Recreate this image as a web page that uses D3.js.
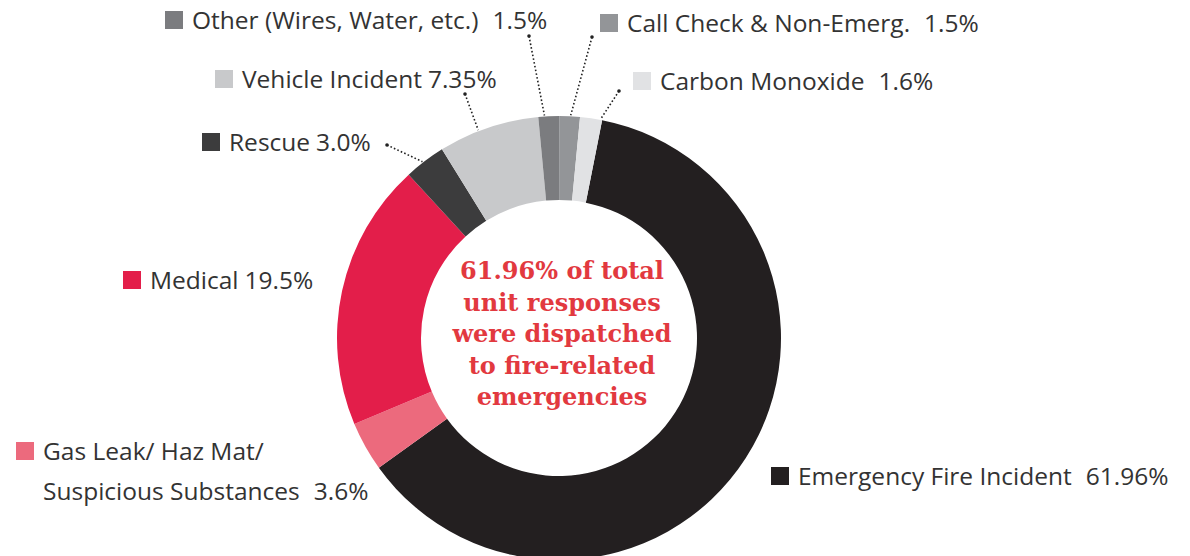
<!DOCTYPE html>
<html>
<head>
<meta charset="utf-8">
<script src="https://cdn.jsdelivr.net/npm/d3@7"></script>
<style>
  body { margin: 0; background: #fff; }
  svg { display: block; }
  .lbl { font-family: "Open Sans", sans-serif; font-size: 24.5px; fill: #333; }
  .center { font-family: "DejaVu Serif", serif; font-weight: bold; font-size: 24px; fill: #e2393f; }
</style>
</head>
<body>
<script>
// 데이터
var categories = ["Emergency Fire Incident", "Gas Leak/ Haz Mat/ Suspicious Substances", "Medical",
                  "Rescue", "Vehicle Incident", "Other (Wires, Water, etc.)",
                  "Call Check & Non-Emerg.", "Carbon Monoxide"];
var values = [61.96, 3.6, 19.5, 3.0, 7.35, 1.5, 1.5, 1.6];
var valueLabels = ["61.96%", "3.6%", "19.5%", "3.0%", "7.35%", "1.5%", "1.5%", "1.6%"];
var colors = ["#231f20", "#ec6a7d", "#e31e4a", "#3c3c3d", "#c8c9cb", "#7b7c7f", "#939598", "#e1e2e4"];
var centerLines = ["61.96% of total", "unit responses", "were dispatched", "to fire-related", "emergencies"];

// 레이아웃 (라벨 위치)
var labelLayout = [
  {x: 771, y: 485, lines: ["Emergency Fire Incident"], gap: 14},
  {x: 16,  y: 460, lines: ["Gas Leak/ Haz Mat/", "Suspicious Substances"], gap: 14},
  {x: 123, y: 289, lines: ["Medical"], gap: 6},
  {x: 202, y: 151, lines: ["Rescue"], gap: 6},
  {x: 215, y: 88,  lines: ["Vehicle Incident"], gap: 6},
  {x: 165, y: 29,  lines: ["Other (Wires, Water, etc.)"], gap: 14, leader: [529, 36, 0.3]},
  {x: 600, y: 32,  lines: ["Call Check & Non-Emerg."], gap: 14, leader: [592, 37, 0.55]},
  {x: 633, y: 90,  lines: ["Carbon Monoxide"], gap: 14, leader: [619, 91, 0.93]}
];
labelLayout[3].leader = [387, 145, 0.45];
labelLayout[4].leader = [465, 94, 0.4];

var width = 1190,
    height = 556,
    cx = 559,
    cy = 338,
    outerR = 222,
    innerR = 138,
    startDeg = 11.2;

var svg = d3.select("body").append("svg")
    .attr("width", width)
    .attr("height", height);

var pie = d3.pie()
    .sort(null)
    .value(function(d){ return d; })
    .startAngle(startDeg * Math.PI / 180)
    .endAngle(startDeg * Math.PI / 180 + 2 * Math.PI);

var arcs = pie(values);
var arc = d3.arc().innerRadius(innerR).outerRadius(outerR);

var g = svg.append("g").attr("transform", "translate(" + cx + "," + cy + ")");
g.selectAll("path")
    .data(arcs)
  .enter().append("path")
    .attr("d", arc)
    .attr("fill", function(d, i){ return colors[i]; });

// 가운데 텍스트
var ct = svg.append("text")
    .attr("class", "center")
    .attr("text-anchor", "middle")
    .attr("x", 562)
    .attr("y", 279);
centerLines.forEach(function(t, i){
  ct.append("tspan").attr("x", 562).attr("dy", i == 0 ? 0 : 31.5).text(t);
});

// 범례 라벨
labelLayout.forEach(function(L, i){
  svg.append("rect")
      .attr("x", L.x)
      .attr("y", L.y - 18)
      .attr("width", 18)
      .attr("height", 18)
      .attr("fill", colors[i]);
  var t = svg.append("text").attr("class", "lbl").attr("x", L.x + 27).attr("y", L.y);
  L.lines.forEach(function(line, j){
    t.append("tspan").attr("x", L.x + 27).attr("dy", j == 0 ? 0 : 40).text(line);
    if(j == L.lines.length - 1){
      t.append("tspan").attr("dx", L.gap).text(valueLabels[i]);
    }
  });

  if(L.leader){
    var a = arcs[i];
    var ang = a.startAngle + (a.endAngle - a.startAngle) * L.leader[2];
    var px = cx + (outerR + 1) * Math.sin(ang),
        py = cy - (outerR + 1) * Math.cos(ang);
    svg.append("line")
        .attr("x1", L.leader[0]).attr("y1", L.leader[1])
        .attr("x2", px).attr("y2", py)
        .attr("stroke", "#222")
        .attr("stroke-width", 1.6)
        .attr("stroke-dasharray", "1.6,2.2");
    svg.append("circle")
        .attr("cx", L.leader[0]).attr("cy", L.leader[1])
        .attr("r", 1.8).attr("fill", "#222");
  }
});
</script>
</body>
</html>
